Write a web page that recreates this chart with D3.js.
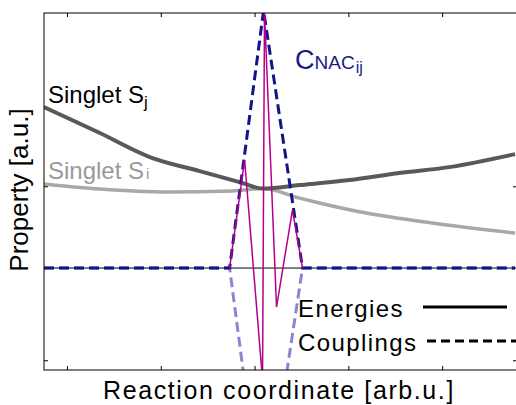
<!DOCTYPE html>
<html>
<head>
<meta charset="utf-8">
<script src="https://cdn.jsdelivr.net/npm/d3@7"></script>
<style>
  body { margin: 0; background: #fff; }
  text { font-family: "Liberation Sans", Arial, sans-serif; }
</style>
</head>
<body>
<div id="chart"></div>
<script>
// Data (reaction coordinate in arb. units, property in a.u.)
const singletJx = [0.755, 1.351, 1.883, 2.415, 2.84, 3.085, 3.479, 4.011, 4.543, 5.074, 5.777];
const singletJy = [0.925, 0.776, 0.638, 0.557, 0.494, 0.457, 0.477, 0.506, 0.546, 0.58, 0.655];

const singletIx = [0.755, 1.351, 2.064, 2.766, 3.085, 3.479, 3.691, 4.191, 4.894, 5.777];
const singletIy = [0.483, 0.454, 0.437, 0.443, 0.457, 0.402, 0.374, 0.316, 0.259, 0.201];

const cnacX = [0.755, 2.734, 3.096, 3.511, 5.777];
const cnacY = [0, 0, 1.48, 0, 0];
const cnacMirrorY = [0, 0, -1.48, 0, 0];

const nacX = [2.734, 2.894, 3.085, 3.106, 3.234, 3.404, 3.511];
const nacY = [0, 0.621, -0.644, 1.47, -0.224, 0.333, 0];

const xTicks = [1, 2, 3, 4, 5];
const yTicks = [-0.53, 0.47];

// Set dimensions
const W = 516, H = 405;
const margin = {top: 13, right: -1, bottom: 35, left: 44};
const width = W - margin.left - margin.right;
const height = H - margin.top - margin.bottom;

const svg = d3.select("#chart").append("svg").attr("width", W).attr("height", H);
const g = svg.append("g").attr("transform", `translate(${margin.left},${margin.top})`);

const x = d3.scaleLinear().domain([0.755, 5.798]).range([0, width]);
const y = d3.scaleLinear().domain([-0.586, 1.466]).range([height, 0]);

g.append("clipPath").attr("id", "clip")
  .append("rect").attr("width", width).attr("height", height);

const zip = (xs, ys) => xs.map((v, i) => [v, ys[i]]);

const smooth = d3.line().x((d) => x(d[0])).y((d) => y(d[1])).curve(d3.curveMonotoneX);
const straight = d3.line().x((d) => x(d[0])).y((d) => y(d[1]));

const plot = g.append("g").attr("clip-path", "url(#clip)");

// zero line
plot.append("line")
  .attr("x1", 0).attr("x2", width)
  .attr("y1", y(0)).attr("y2", y(0))
  .attr("stroke", "black").attr("stroke-width", 1);

// energies
plot.append("path").datum(zip(singletIx, singletIy))
  .attr("fill", "none").attr("stroke", "#a8a8a8").attr("stroke-width", 3.5)
  .attr("d", smooth);

plot.append("path").datum(zip(singletJx, singletJy))
  .attr("fill", "none").attr("stroke", "#595959").attr("stroke-width", 4)
  .attr("d", smooth);

// couplings
plot.append("path").datum(zip(cnacX, cnacMirrorY))
  .attr("fill", "none").attr("stroke", "#8a87d0").attr("stroke-width", 3)
  .attr("stroke-dasharray", "10,5")
  .attr("d", straight);

plot.append("path").datum(zip(cnacX, cnacY))
  .attr("fill", "none").attr("stroke", "#14148a").attr("stroke-width", 3)
  .attr("stroke-dasharray", "10,5")
  .attr("d", straight);

plot.append("path").datum(zip(nacX, nacY))
  .attr("fill", "none").attr("stroke", "#b5008e").attr("stroke-width", 1.5)
  .attr("d", straight);

// frame + inward ticks
g.append("rect").attr("width", width).attr("height", height)
  .attr("fill", "none").attr("stroke", "black").attr("stroke-width", 1);

const tickAxis = (axis) => axis.tickSize(-4).tickFormat("");
g.append("g").attr("transform", `translate(0,${height})`)
  .call(tickAxis(d3.axisBottom(x).tickValues(xTicks)))
  .call((a) => a.select(".domain").remove());
g.append("g")
  .call(tickAxis(d3.axisTop(x).tickValues(xTicks)))
  .call((a) => a.select(".domain").remove());
g.append("g")
  .call(tickAxis(d3.axisLeft(y).tickValues(yTicks)))
  .call((a) => a.select(".domain").remove());
g.append("g").attr("transform", `translate(${width},0)`)
  .call(tickAxis(d3.axisRight(y).tickValues(yTicks)))
  .call((a) => a.select(".domain").remove());

// axis labels
svg.append("text")
  .attr("x", 279).attr("y", 399)
  .attr("text-anchor", "middle")
  .style("font-size", "25px").style("letter-spacing", "1.6px")
  .text("Reaction coordinate [arb.u.]");

svg.append("text")
  .attr("transform", "translate(28,190) rotate(-90)")
  .attr("text-anchor", "middle")
  .style("font-size", "26px")
  .text("Property [a.u.]");

// curve labels
const sj = svg.append("text").attr("x", 48).attr("y", 103).style("font-size", "24px").attr("fill", "black");
sj.append("tspan").text("Singlet S");
sj.append("tspan").attr("dy", 5).style("font-size", "17px").text("j");

const si = svg.append("text").attr("x", 48).attr("y", 179).style("font-size", "24px").attr("fill", "#999");
si.append("tspan").text("Singlet S");
si.append("tspan").attr("dx", 2).style("font-size", "15px").text("i");

const cn = svg.append("text").attr("x", 295).attr("y", 69).attr("fill", "#1a1a85");
cn.append("tspan").style("font-size", "27px").text("C");
cn.append("tspan").style("font-size", "19px").text("NAC");
cn.append("tspan").attr("dx", 1).attr("dy", 4).style("font-size", "16px").text("ij");

// legend
const legendData = [
  {name: "Energies", y: 317, x1: 423, x2: 507, dash: null},
  {name: "Couplings", y: 351, x1: 427, x2: 518, dash: "9,5"},
];
legendData.forEach((d) => {
  svg.append("text")
    .attr("x", 298).attr("y", d.y)
    .style("font-size", "24px").style("letter-spacing", "1.4px")
    .text(d.name);
  svg.append("line")
    .attr("x1", d.x1).attr("x2", d.x2)
    .attr("y1", d.y - 10).attr("y2", d.y - 10)
    .attr("stroke", "black").attr("stroke-width", 3)
    .attr("stroke-dasharray", d.dash);
});
</script>
</body>
</html>
